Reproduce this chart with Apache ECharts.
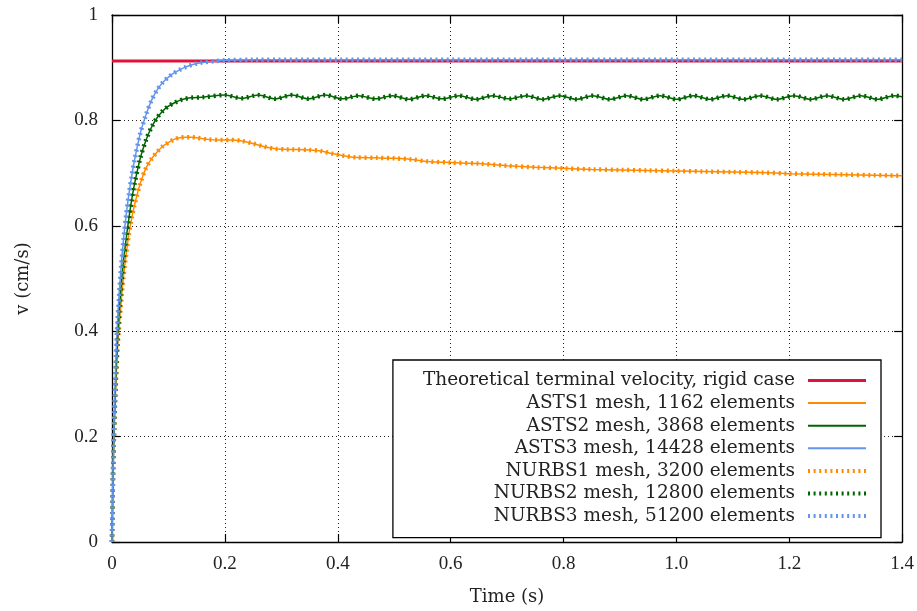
<!DOCTYPE html>
<html>
<head>
<meta charset="utf-8">
<script src="https://cdn.jsdelivr.net/npm/echarts@6/dist/echarts.min.js"></script>
<style>
	html, body { margin: 0; padding: 0; background: #fff; }
	#chart { width: 917px; height: 611px; }
</style>
</head>
<body>
<div id="chart"></div>
<script>
	// tick labels
	var xTicks = [0, 0.2, 0.4, 0.6, 0.8, 1.0, 1.2, 1.4];
	var yTicks = [0, 0.2, 0.4, 0.6, 0.8, 1];

	var names = [
		'Theoretical terminal velocity, rigid case',
		'ASTS1 mesh, 1162 elements',
		'ASTS2 mesh, 3868 elements',
		'ASTS3 mesh, 14428 elements',
		'NURBS1 mesh, 3200 elements',
		'NURBS2 mesh, 12800 elements',
		'NURBS3 mesh, 51200 elements'
	];

	// theoretical terminal velocity (cm/s)
	var rigid = [[0, 0.9127], [1.4, 0.9127]];

	// mesh level 1 (ASTS1 / NURBS1 overlap)
	var mesh1 = [
		[0, 0], [0.002, 0.13], [0.005, 0.25], [0.01, 0.37], [0.015, 0.44], [0.02, 0.50],
		[0.025, 0.545], [0.03, 0.585], [0.035, 0.615], [0.04, 0.64], [0.05, 0.68],
		[0.06, 0.709], [0.07, 0.727], [0.08, 0.740], [0.09, 0.751], [0.1, 0.758],
		[0.11, 0.764], [0.12, 0.767], [0.13, 0.768], [0.14, 0.768], [0.15, 0.767],
		[0.17, 0.764], [0.19, 0.763], [0.21, 0.763], [0.23, 0.761], [0.25, 0.756],
		[0.27, 0.750], [0.29, 0.746], [0.31, 0.745], [0.35, 0.744], [0.37, 0.742],
		[0.39, 0.737], [0.41, 0.733], [0.43, 0.730], [0.47, 0.729], [0.5, 0.728],
		[0.53, 0.726], [0.56, 0.722], [0.6, 0.720], [0.65, 0.718], [0.7, 0.714],
		[0.75, 0.711], [0.8, 0.709], [0.85, 0.707], [0.9, 0.706], [0.95, 0.705],
		[1.0, 0.704], [1.05, 0.703], [1.1, 0.702], [1.15, 0.701], [1.2, 0.699],
		[1.25, 0.698], [1.3, 0.697], [1.35, 0.696], [1.4, 0.695]
	];

	// mesh level 2 (ASTS2 / NURBS2 overlap), small oscillation after 0.2 s
	var mesh2 = [
		[0, 0], [0.002, 0.14], [0.005, 0.26], [0.01, 0.39], [0.015, 0.47], [0.02, 0.53],
		[0.025, 0.575], [0.03, 0.615], [0.035, 0.65], [0.04, 0.68], [0.05, 0.728],
		[0.06, 0.762], [0.07, 0.787], [0.08, 0.805], [0.09, 0.818], [0.1, 0.827],
		[0.11, 0.833], [0.12, 0.838], [0.13, 0.841], [0.14, 0.843], [0.16, 0.844],
		[0.2, 0.848], [0.230, 0.842], [0.259, 0.848], [0.289, 0.841], [0.319, 0.848],
		[0.348, 0.841], [0.378, 0.848], [0.408, 0.841], [0.437, 0.847], [0.467, 0.841],
		[0.497, 0.847], [0.526, 0.840], [0.556, 0.847], [0.585, 0.841], [0.615, 0.847],
		[0.645, 0.840], [0.674, 0.847], [0.704, 0.841], [0.734, 0.847], [0.763, 0.840],
		[0.793, 0.847], [0.823, 0.840], [0.852, 0.847], [0.882, 0.840], [0.912, 0.847],
		[0.941, 0.840], [0.971, 0.847], [1.001, 0.840], [1.030, 0.847], [1.060, 0.840],
		[1.090, 0.847], [1.119, 0.840], [1.149, 0.847], [1.178, 0.840], [1.208, 0.847],
		[1.238, 0.840], [1.267, 0.847], [1.297, 0.840], [1.327, 0.847], [1.356, 0.840],
		[1.386, 0.847], [1.4, 0.845]
	];

	// mesh level 3 (ASTS3 / NURBS3 overlap)
	var mesh3 = [
		[0, 0], [0.002, 0.15], [0.005, 0.28], [0.008, 0.38], [0.012, 0.46], [0.016, 0.52],
		[0.02, 0.57], [0.025, 0.62], [0.03, 0.66], [0.035, 0.695], [0.04, 0.725],
		[0.05, 0.775], [0.06, 0.81], [0.07, 0.838], [0.08, 0.858], [0.09, 0.872],
		[0.1, 0.882], [0.11, 0.89], [0.12, 0.896], [0.13, 0.901], [0.14, 0.905],
		[0.15, 0.908], [0.16, 0.910], [0.18, 0.912], [0.2, 0.914], [0.25, 0.915],
		[0.4, 0.915], [0.6, 0.915], [0.8, 0.915], [1.0, 0.915], [1.2, 0.915], [1.4, 0.915]
	];

	var colors = ['#dc143c', '#ff8c00', '#006400', '#6495ed', '#ff8c00', '#006400', '#6495ed'];
	var dots = [2, 3.6];
	var font = '"Liberation Serif", "DejaVu Serif", serif';
	var wordFont = '"DejaVu Serif", "Liberation Serif", serif';

	function solid(i, data, width) {
		return {
			name: names[i], type: 'line', data: data, symbol: 'none', smooth: 0.3,
			lineStyle: { color: colors[i], width: width },
			itemStyle: { color: colors[i] },
			z: 2 + i
		};
	}
	function dotted(i, data) {
		return {
			name: names[i], type: 'line', data: data, symbol: 'none', smooth: 0.3,
			lineStyle: { color: colors[i], width: 4.5, type: dots },
			itemStyle: { color: colors[i] },
			z: 2 + i
		};
	}

	var axisCommon = {
		axisLine: { show: true, onZero: false, lineStyle: { color: '#000', width: 1.3 } },
		axisTick: { show: true, inside: true, length: 8, lineStyle: { color: '#000', width: 1.2 } }
	};

	var myChart = echarts.init(document.getElementById('chart'));
	myChart.setOption({
		animation: false,
		textStyle: { fontFamily: font },
		grid: { left: 112, right: 14, top: 15, bottom: 69 },
		legend: {
			orient: 'vertical',
			align: 'right',
			right: 36,
			top: 360,
			padding: [11, 13, 12, 30],
			itemGap: 3.6,
			itemWidth: 58,
			itemHeight: 14,
			backgroundColor: '#fff',
			borderColor: '#000',
			borderWidth: 1.3,
			borderRadius: 0,
			textStyle: { fontFamily: wordFont, fontSize: 18.5, color: '#222', padding: [0, 8, 0, 0] },
			data: names.map(function (n, i) {
				return {
					name: n,
					itemStyle: { opacity: 0, borderWidth: 0 },
					lineStyle: { color: colors[i], width: i === 0 ? 3 : (i < 4 ? 2 : 4), type: i < 4 ? 'solid' : dots }
				};
			})
		},
		xAxis: [Object.assign({
			type: 'value', min: 0, max: 1.4, interval: 0.2,
			name: 'Time (s)', nameLocation: 'middle', nameGap: 46,
			nameTextStyle: { fontFamily: wordFont, fontSize: 18, color: '#222' },
			axisLabel: {
				fontFamily: font, fontSize: 19, color: '#222', margin: 13,
				formatter: function (v) { return xTicks.indexOf(+v.toFixed(1)) === 0 ? '0' : v.toFixed(1); }
			},
			splitLine: { show: true, lineStyle: { color: '#222', width: 1, type: [1, 3] } }
		}, axisCommon), Object.assign({
			type: 'value', min: 0, max: 1.4, interval: 0.2, position: 'top',
			axisLabel: { show: false }, splitLine: { show: false }
		}, axisCommon)],
		yAxis: [Object.assign({
			type: 'value', min: 0, max: 1, interval: 0.2,
			name: 'v (cm/s)', nameLocation: 'middle', nameGap: 80,
			nameTextStyle: { fontFamily: wordFont, fontSize: 18, color: '#222' },
			axisLabel: { fontFamily: font, fontSize: 19, color: '#222', margin: 14 },
			splitLine: { show: true, lineStyle: { color: '#222', width: 1, type: [1, 3] } }
		}, axisCommon), Object.assign({
			type: 'value', min: 0, max: 1, interval: 0.2, position: 'right',
			axisLabel: { show: false }, splitLine: { show: false }
		}, axisCommon)],
		series: [
			solid(0, rigid, 3),
			solid(1, mesh1, 1.5),
			solid(2, mesh2, 1.5),
			solid(3, mesh3, 1.5),
			dotted(4, mesh1),
			dotted(5, mesh2),
			dotted(6, mesh3)
		]
	});
</script>
</body>
</html>
